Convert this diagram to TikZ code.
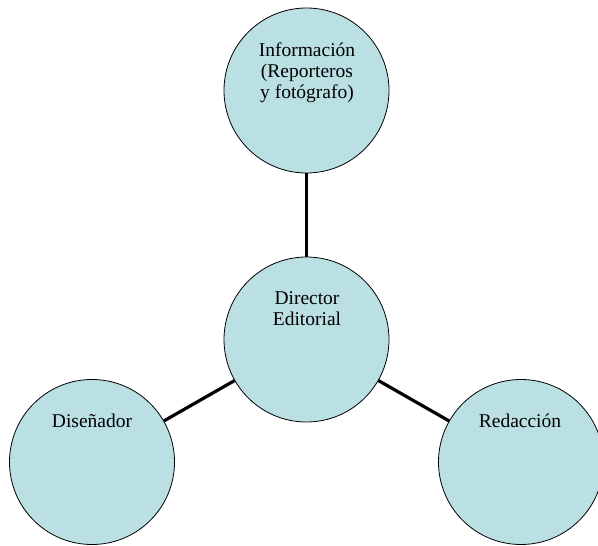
\documentclass[tikz,border=0pt]{standalone}
\usepackage{fontspec}
\setmainfont{Liberation Serif}
\definecolor{circfill}{RGB}{186,224,228}
\begin{document}
\begin{tikzpicture}[x=1pt,y=-1pt,
  bubble/.style={circle,draw=black,line width=0.8pt,fill=circfill,minimum size=165pt,inner sep=0pt},
  label/.style={anchor=base,inner sep=0pt,align=center,font=\fontsize{19.5}{21}\selectfont},
  link/.style={line width=3.2pt,black}]
\useasboundingbox (0,0) rectangle (598,546);
\node[bubble] (info) at (306.5,90.5) {};
\node[bubble] (dir) at (306.5,339.5) {};
\node[bubble] (dis) at (92,462) {};
\node[bubble] (red) at (521,462) {};
\draw[link] (dir) -- (info);
\draw[link] (dir) -- (dis);
\draw[link] (dir) -- (red);
\node[label] (tinfo) at (307,98) {Información\\(Reporteros\\y fotógrafo)};
\node[label] (tdir) at (307,325) {Director\\Editorial};
\node[label] (tdis) at (92,427) {Diseñador};
\node[label] (tred) at (520,427) {Redacción};
\end{tikzpicture}
\end{document}
